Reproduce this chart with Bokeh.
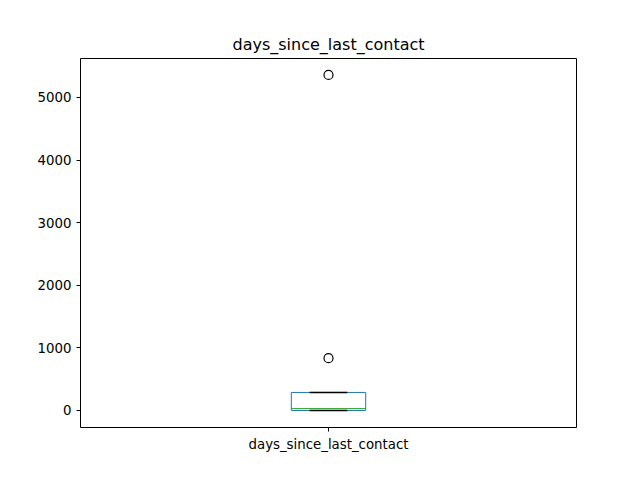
from bokeh.plotting import figure
from bokeh.models import FixedTicker, Range1d
from bokeh.embed import file_html
from bokeh.resources import INLINE

label = "days_since_last_contact"
q1, median, q3 = 0, 30, 288
whisker_low, whisker_high = 0, 288
outliers = [835, 5360]

p = figure(width=624, height=464, output_backend="svg", toolbar_location=None,
           title=label, x_range=Range1d(0.5, 1.5), y_range=Range1d(-272, 5623),
           min_border_left=80, min_border_right=48, min_border_top=58, min_border_bottom=37)
p.title.align = "center"
p.title.text_font = "DejaVu Sans"
p.title.text_font_size = "12pt"
p.title.text_font_style = "normal"
p.title.text_color = "black"
p.xgrid.visible = False
p.ygrid.visible = False
p.outline_line_color = "black"

# box
p.quad(left=[0.925], right=[1.075], bottom=[q1], top=[q3],
       fill_color=None, line_color="#1f77b4", line_width=1)
p.segment(x0=[0.925], x1=[1.075], y0=[median], y1=[median], line_color="#2ca02c", line_width=1)
# whiskers and caps
p.segment(x0=[1, 1], x1=[1, 1], y0=[q3, q1], y1=[whisker_high, whisker_low], line_color="black")
p.segment(x0=[0.962, 0.962], x1=[1.038, 1.038], y0=[whisker_high, whisker_low],
          y1=[whisker_high, whisker_low], line_color="black", line_width=1.5)
p.scatter([1] * len(outliers), outliers, size=9, fill_color=None, line_color="black", line_width=1.2)

for ax in (p.xaxis, p.yaxis):
    ax.major_label_text_font = "DejaVu Sans"
    ax.major_label_text_font_size = "10pt"
    ax.major_label_text_color = "black"
    ax.axis_line_color = None
    ax.minor_tick_line_color = None
    ax.major_tick_out = 4
    ax.major_tick_in = 0
p.yaxis.ticker = FixedTicker(ticks=[0, 1000, 2000, 3000, 4000, 5000])
p.xaxis.ticker = FixedTicker(ticks=[1])
p.xaxis.major_label_overrides = {1: label}

open("out.html", "w").write(file_html(p, INLINE))
